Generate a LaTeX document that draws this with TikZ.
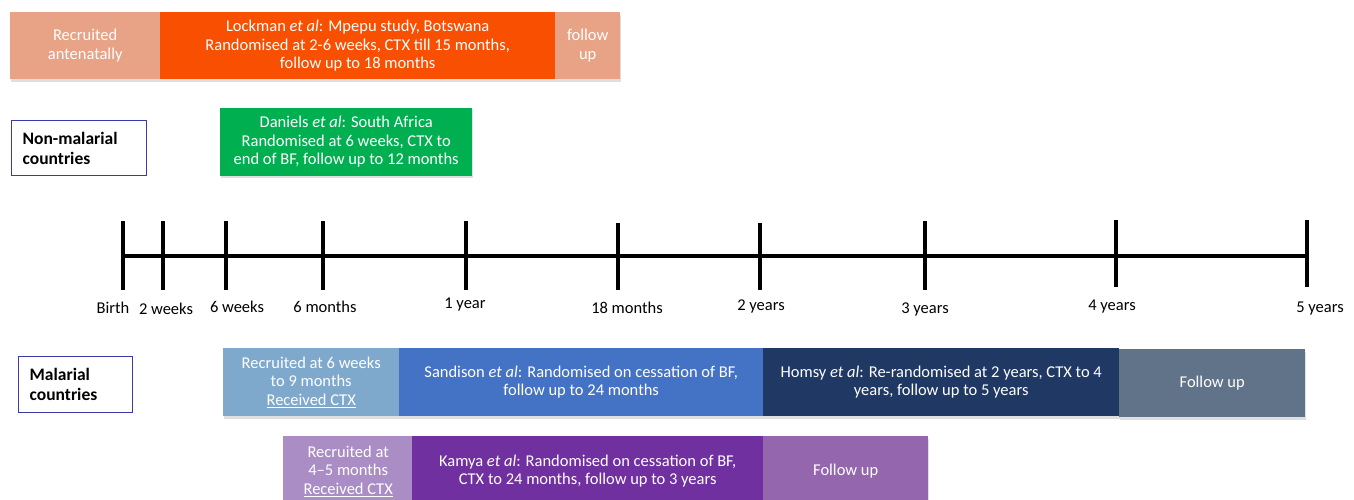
\documentclass[tikz,border=0pt]{standalone}
\usepackage{fontspec}
\setmainfont{Carlito}
\usetikzlibrary{shadows}
\definecolor{salmonl}{HTML}{E8A285}
\definecolor{orangeb}{HTML}{F94F00}
\definecolor{greenb}{HTML}{00B050}
\definecolor{bluel}{HTML}{7EA9CD}
\definecolor{blueb}{HTML}{4472C4}
\definecolor{navyb}{HTML}{203864}
\definecolor{slateb}{HTML}{617388}
\definecolor{purplel}{HTML}{AA8DC4}
\definecolor{purpleb}{HTML}{7030A0}
\definecolor{purplem}{HTML}{9466AD}
\definecolor{borderb}{HTML}{3A3AA8}
\begin{document}
\begin{tikzpicture}[x=1pt,y=-1pt,
  seg/.style={rectangle, inner sep=0pt, anchor=north west, text=white, align=center,
    font=\fontsize{16.5}{18.5}\selectfont,
    drop shadow={shadow xshift=1pt, shadow yshift=-2.5pt, opacity=0.25}},
  grp/.style={rectangle, draw=borderb, line width=1.3pt, anchor=north west, inner xsep=11pt, inner ysep=0pt,
    align=left, font=\fontsize{17.5}{20}\selectfont\bfseries, text=black},
  lab/.style={inner sep=0pt, font=\fontsize{16.5}{18.5}\selectfont, text=black},
  tick/.style={line width=4pt}]
\useasboundingbox (0,0) rectangle (1354,500);

% Top row: Lockman
\node[seg, fill=salmonl, minimum width=150pt, minimum height=67pt] (rec1) at (10,12) {Recruited\\antenatally};
\node[seg, fill=orangeb, minimum width=395pt, minimum height=67pt] (lock) at (160,12)
  {Lockman \textit{et al}: Mpepu study, Botswana\\Randomised at 2-6 weeks, CTX till 15 months,\\follow up to 18 months};
\node[seg, fill=salmonl, minimum width=65pt, minimum height=67pt] (fu1) at (555,12) {follow\\up};

% Non-malarial
\node[grp, minimum width=135pt, minimum height=55pt, text width=113pt] (nonmal) at (11,120) {Non-malarial\\countries};
\node[seg, fill=greenb, minimum width=252pt, minimum height=68pt] (dan) at (220,107.5)
  {Daniels \textit{et al}: South Africa\\Randomised at 6 weeks, CTX to\\end of BF, follow up to 12 months};

% Timeline
\coordinate (t0) at (123,256);
\coordinate (t9) at (1307,256);
\draw[line width=4pt] (t0) -- (t9);
\foreach \x/\a/\b in {123/221/290, 163/221/290, 226/221/290, 323/221/290, 466/221/290,
  618/223/290, 760/223/290, 925/221/290, 1116/220/287, 1307/220/287}
  \draw[tick] (\x,\a) -- (\x,\b);
\node[lab] (lbirth) at (113,308) {Birth};
\node[lab] (l2w) at (166,309) {2 weeks};
\node[lab] (l6w) at (237,307) {6 weeks};
\node[lab] (l6m) at (325,307) {6 months};
\node[lab] (l1y) at (465,305) {1 year};
\node[lab] (l18m) at (627,308) {18 months};
\node[lab] (l2y) at (761,306) {2 years};
\node[lab] (l3y) at (925,309) {3 years};
\node[lab] (l4y) at (1112,307) {4 years};
\node[lab] (l5y) at (1320,309) {5 years};

% Malarial
\node[grp, minimum width=114pt, minimum height=56pt, text width=92pt] (mal) at (18,356) {Malarial\\countries};

\node[seg, fill=bluel, minimum width=176pt, minimum height=68pt] (rec2) at (223,348)
  {Recruited at 6 weeks\\to 9 months\\\underline{Received CTX}};
\node[seg, fill=blueb, minimum width=364pt, minimum height=68pt] (sand) at (399,348)
  {Sandison \textit{et al}: Randomised on cessation of BF,\\follow up to 24 months};
\node[seg, fill=navyb, minimum width=356pt, minimum height=68pt] (homsy) at (763,348)
  {Homsy \textit{et al}: Re-randomised at 2 years, CTX to 4\\years, follow up to 5 years};
\node[seg, fill=slateb, minimum width=186pt, minimum height=68pt] (fu2) at (1119,349) {Follow up};

\node[seg, fill=purplel, minimum width=130pt, minimum height=70pt] (rec3) at (283,436)
  {Recruited at\\4–5 months\\\underline{Received CTX}};
\node[seg, fill=purpleb, minimum width=351pt, minimum height=70pt] (kamya) at (412,436)
  {Kamya \textit{et al}: Randomised on cessation of BF,\\CTX to 24 months, follow up to 3 years};
\node[seg, fill=purplem, minimum width=165pt, minimum height=70pt] (fu3) at (763,436) {Follow up};
\end{tikzpicture}
\end{document}
